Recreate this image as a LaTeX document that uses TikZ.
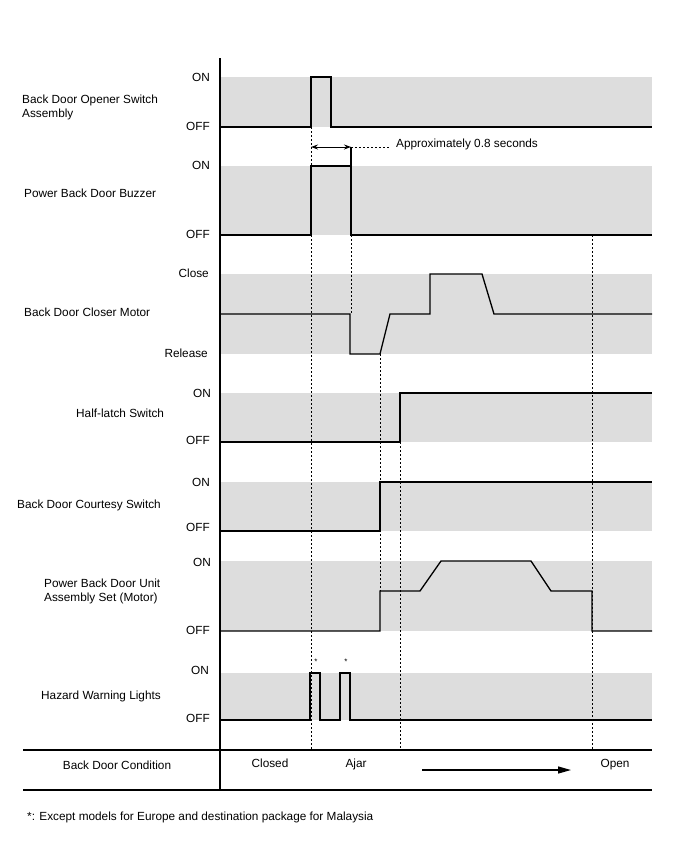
\documentclass[tikz,border=0pt]{standalone}
\usepackage{fontspec}
\setmainfont{Liberation Sans}
\usetikzlibrary{arrows.meta}
\definecolor{bandgray}{RGB}{221,221,221}
\newcommand{\lblfont}{\fontsize{11.8}{14}\selectfont}
\begin{document}
\begin{tikzpicture}[x=1pt,y=-1pt,
  band/.style={fill=bandgray,draw=none},
  sig/.style={line width=1.3pt,line join=miter},
  guide/.style={line width=1pt,dash pattern=on 2pt off 2pt},
  txtlbl/.style={inner sep=0pt,font=\lblfont,text height=8.4pt,text depth=0pt},
  lvl/.style={txtlbl,anchor=east},
  signame/.style={txtlbl,anchor=west},
  signametwo/.style={inner sep=0pt,font=\lblfont,anchor=west,align=left},
  frame/.style={line width=1.3pt}]
\useasboundingbox (0,0) rectangle (688,852);

% gray bands
\fill[band] (220,77) rectangle (652,127);
\fill[band] (220,166) rectangle (652,235);
\fill[band] (220,274) rectangle (652,354);
\fill[band] (220,393) rectangle (652,442);
\fill[band] (220,482) rectangle (652,531);
\fill[band] (220,561) rectangle (652,631);
\fill[band] (220,673) rectangle (652,720);

% guide lines
\coordinate (g1a) at (311,127); \coordinate (g1b) at (311,750);
\coordinate (g2a) at (351,235); \coordinate (g2b) at (351,314);
\coordinate (g3a) at (380,354); \coordinate (g3b) at (380,591);
\coordinate (g4a) at (400,442); \coordinate (g4b) at (400,750);
\coordinate (g5a) at (592,235); \coordinate (g5b) at (592,750);
\coordinate (d1) at (351,147); \coordinate (d2) at (390,147);
\coordinate (d0) at (311,147);
\draw[guide] (g1a) -- (g1b);
\draw[guide] (g2a) -- (g2b);
\draw[guide] (g3a) -- (g3b);
\draw[guide] (g4a) -- (g4b);
\draw[guide] (g5a) -- (g5b);
\draw[guide] (d1) -- (d2);

% signals
\draw[sig] (220,127) -- (311,127) -- (311,77) -- (331,77) -- (331,127) -- (652,127);
\draw[sig] (220,235) -- (311,235) -- (311,166) -- (351,166) -- (351,235) -- (652,235);
\draw[sig] (d1) -- (351,166);
\draw[sig] (220,314) -- (350,314) -- (350,354) -- (380,354) -- (390,314) -- (430,314) -- (430,274) -- (482,274) -- (494,314) -- (652,314);
\draw[sig] (220,442) -- (400,442) -- (400,393) -- (652,393);
\draw[sig] (220,531) -- (380,531) -- (380,482) -- (652,482);
\draw[sig] (220,631) -- (380,631) -- (380,591) -- (420,591) -- (441,561) -- (531,561) -- (551,591) -- (592,591) -- (592,631) -- (652,631);
\draw[sig] (220,720) -- (310,720) -- (310,673) -- (320,673) -- (320,720) -- (340,720) -- (340,673) -- (350,673) -- (350,720) -- (652,720);

% 0.8 s arrow
\draw[line width=1pt,{Stealth[length=7pt,width=5pt]}-{Stealth[length=7pt,width=5pt]}] (d0) -- (d1);

% frame
\coordinate (ax1) at (220,58); \coordinate (ax2) at (220,790);
\coordinate (t1a) at (23,750); \coordinate (t1b) at (652,750);
\coordinate (t2a) at (23,790); \coordinate (t2b) at (652,790);
\draw[frame] (ax1) -- (ax2);
\draw[frame] (t1a) -- (t1b);
\draw[frame] (t2a) -- (t2b);

% condition arrow
\coordinate (ca) at (422,770); \coordinate (cb) at (571,770);
\draw[line width=1.3pt,-{Triangle[length=13pt,width=7pt]}] (ca) -- (cb);

% level labels
\node[lvl] (l1on) at (210,77) {ON};
\node[lvl] (l1off) at (210,126) {OFF};
\node[lvl] (l2on) at (210,165) {ON};
\node[lvl] (l2off) at (210,234) {OFF};
\node[lvl] (l3c) at (209,273) {Close};
\node[lvl] (l3r) at (208,353) {Release};
\node[lvl] (l4on) at (211,393) {ON};
\node[lvl] (l4off) at (210,440) {OFF};
\node[lvl] (l5on) at (210,482) {ON};
\node[lvl] (l5off) at (210,527) {OFF};
\node[lvl] (l6on) at (211,562) {ON};
\node[lvl] (l6off) at (210,630) {OFF};
\node[lvl] (l7on) at (209,670) {ON};
\node[lvl] (l7off) at (210,718) {OFF};

% signal names
\node[signametwo] (n1) at (22,107) {Back Door Opener Switch\\Assembly};
\node[signame] (n2) at (24,193) {Power Back Door Buzzer};
\node[signame] (n3) at (24,312) {Back Door Closer Motor};
\node[signame] (n4) at (76,413) {Half-latch Switch};
\node[signame] (n5) at (17,504) {Back Door Courtesy Switch};
\node[signametwo] (n6) at (44,591) {Power Back Door Unit\\Assembly Set (Motor)};
\node[signame] (n7) at (41,695) {Hazard Warning Lights};

% other texts
\node[signame] (appr) at (396,143) {Approximately 0.8 seconds};
\node[inner sep=0pt,font=\fontsize{8}{9}\selectfont] (s1) at (316,662) {*};
\node[inner sep=0pt,font=\fontsize{8}{9}\selectfont] (s2) at (346,662) {*};
\node[txtlbl] (cond) at (117,765) {Back Door Condition};
\node[txtlbl] (closed) at (270,763) {Closed};
\node[txtlbl] (ajar) at (356,763) {Ajar};
\node[txtlbl] (open) at (615,763) {Open};
\node[signame] (foot) at (27,816) {*: Except models for Europe and destination package for Malaysia};
\end{tikzpicture}
\end{document}
